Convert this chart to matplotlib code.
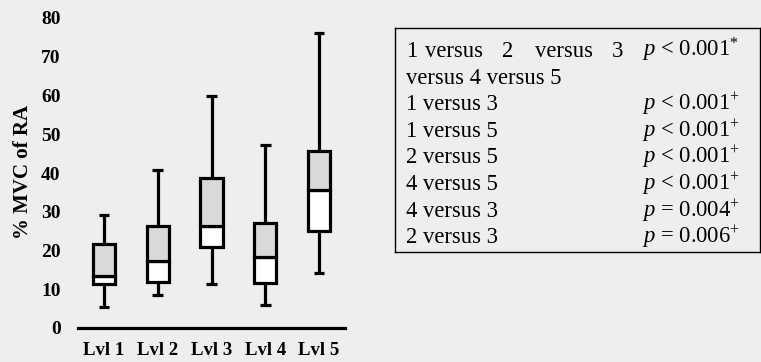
import matplotlib
matplotlib.use("Agg")
import matplotlib.pyplot as plt
import numpy as np

# ---- data ----
levels = ["Lvl 1", "Lvl 2", "Lvl 3", "Lvl 4", "Lvl 5"]
whisker_low = [5.5, 8.5, 11.3, 5.9, 14.1]
q1 = [11.3, 12.0, 21.0, 11.5, 25.1]
median = [13.4, 17.3, 26.4, 18.3, 35.7]
q3 = [21.6, 26.3, 38.8, 27.0, 45.8]
whisker_high = [29.2, 40.8, 59.9, 47.2, 76.1]
y_ticks = [0, 10, 20, 30, 40, 50, 60, 70, 80]

first_row_words = ["1", "versus", "2", "versus", "3"]
first_row_cont = "versus 4 versus 5"
first_row_p = "$p$ < 0.001$^{*}$"
comparisons = ["1 versus 3", "1 versus 5", "2 versus 5",
               "4 versus 5", "4 versus 3", "2 versus 3"]
p_values = ["$p$ < 0.001$^{+}$", "$p$ < 0.001$^{+}$", "$p$ < 0.001$^{+}$",
            "$p$ < 0.001$^{+}$", "$p$ = 0.004$^{+}$", "$p$ = 0.006$^{+}$"]

BG = "#efeeec"
W, H = 761, 362

plt.rcParams["font.family"] = "Liberation Serif"
plt.rcParams["mathtext.fontset"] = "custom"
plt.rcParams["mathtext.rm"] = "Liberation Serif"
plt.rcParams["mathtext.it"] = "Liberation Serif:italic"
plt.rcParams["mathtext.bf"] = "Liberation Serif:bold"

fig = plt.figure(figsize=(W / 100, H / 100), dpi=100, facecolor=BG)


def fx(px):
    return px / W


def fy(py):
    return 1 - py / H


# ---- box plot ----
ax = fig.add_axes([fx(78), fy(328), fx(345) - fx(78), fy(18) - fy(328)])
ax.set_facecolor(BG)
x = np.arange(1, len(levels) + 1)
lw = 2.3
box_w = 0.41
cap_w = 0.2

lo = np.array(q1)
med = np.array(median)
hi = np.array(q3)
ax.bar(x, med - lo, bottom=lo, width=box_w, color="white",
       edgecolor="black", linewidth=lw, zorder=3)
ax.bar(x, hi - med, bottom=med, width=box_w, color="#d9d9d9",
       edgecolor="black", linewidth=lw, zorder=3)
ax.vlines(x, hi, whisker_high, color="black", linewidth=lw, zorder=2)
ax.vlines(x, whisker_low, lo, color="black", linewidth=lw, zorder=2)
ax.hlines(whisker_high, x - cap_w / 2, x + cap_w / 2, color="black", linewidth=lw)
ax.hlines(whisker_low, x - cap_w / 2, x + cap_w / 2, color="black", linewidth=lw)

ax.set_xlim(0.515, 5.485)
ax.set_ylim(0, 80)
ax.set_xticks(x)
ax.set_xticklabels(levels, fontsize=13.5, fontweight="bold")
ax.set_yticks(y_ticks)
ax.set_yticklabels([str(v) for v in y_ticks], fontsize=14, fontweight="bold")
ax.tick_params(axis="both", length=0)
ax.tick_params(axis="y", pad=12.5)
ax.tick_params(axis="x", pad=10)
for side in ["top", "right", "left"]:
    ax.spines[side].set_visible(False)
ax.spines["bottom"].set_linewidth(2.3)
ax.spines["bottom"].set_zorder(4)

fig.text(fx(23), fy(172), "% MVC of RA", rotation=90, ha="center",
         va="center", fontsize=15, fontweight="bold")

# ---- statistics box ----
tab = fig.add_axes([fx(395), fy(252), fx(760) - fx(395), fy(28) - fy(252)])
tab.set_facecolor(BG)
tab.set_xticks([])
tab.set_yticks([])
for s in tab.spines.values():
    s.set_linewidth(1.0)

fs = 16.3
base0 = 57
step = 26.6
word_x = [406, 425, 502, 535, 612]
for wx, word in zip(word_x, first_row_words):
    fig.text(fx(wx), fy(base0), word, fontsize=fs, va="baseline")
fig.text(fx(642), fy(base0), first_row_p, fontsize=fs, va="baseline")
fig.text(fx(406), fy(base0 + step), first_row_cont, fontsize=fs, va="baseline")
for i, (comp, p) in enumerate(zip(comparisons, p_values)):
    yb = base0 + step * (i + 2)
    fig.text(fx(406), fy(yb), comp, fontsize=fs, va="baseline")
    fig.text(fx(642), fy(yb), p, fontsize=fs, va="baseline")

fig.savefig("out.png", dpi=100, facecolor=BG)
